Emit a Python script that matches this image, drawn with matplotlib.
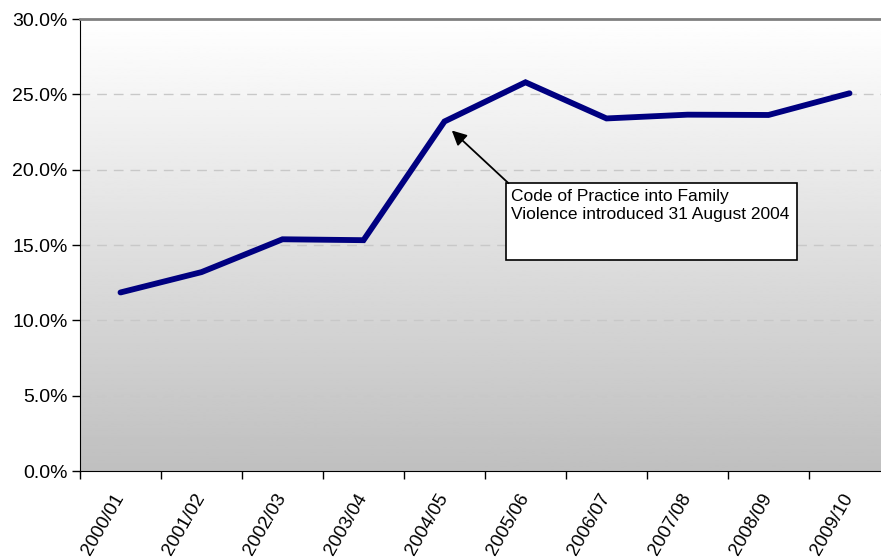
import numpy as np
import matplotlib
matplotlib.use('Agg')
import matplotlib.pyplot as plt
from matplotlib.patches import Rectangle
from matplotlib.ticker import FuncFormatter, FixedLocator

plt.rcParams['font.family'] = ['Liberation Sans', 'DejaVu Sans']

# dati
anni = ['2000/01', '2001/02', '2002/03', '2003/04', '2004/05',
        '2005/06', '2006/07', '2007/08', '2008/09', '2009/10']
percentuali = [11.85, 13.2, 15.38, 15.32, 23.2, 25.8, 23.4, 23.65, 23.63, 25.07]
nota = 'Code of Practice into Family\nViolence introduced 31 August 2004'

fig = plt.figure(figsize=(8.81, 5.6), dpi=100)
# l'area del grafico esce dal bordo destro come nell'originale
ax = fig.add_axes([80 / 881, 89 / 560, 810 / 881, 452 / 560])

xs = np.arange(len(anni))
ax.set_xlim(-0.5, len(anni) - 0.5)
ax.set_ylim(0, 30)

# sfondo sfumato bianco -> grigio
grad = np.linspace(1.0, 0.75, 256).reshape(-1, 1)
ax.imshow(grad, cmap='gray', vmin=0, vmax=1, aspect='auto',
          extent=(0, 1, 0, 1), transform=ax.transAxes, zorder=0)

for v in [5, 10, 15, 20, 25]:
    ax.axhline(v, color='#c8c8c8', lw=1, ls=(0, (7, 5)), zorder=1)

ax.plot(xs, percentuali, color='#000080', lw=4.2, solid_capstyle='round',
        solid_joinstyle='miter', zorder=3)

# riquadro della nota con freccia
ax.add_patch(Rectangle((4.76, 14.0), 3.59, 5.1, fc='white', ec='black',
                       lw=1.2, zorder=4))
ax.text(4.82, 18.72, nota, fontsize=12.5, va='top', ha='left',
        linespacing=1.25, zorder=5)
ax.annotate('', xy=(xs[4] + 0.09, percentuali[4] - 0.6), xytext=(4.79, 19.1),
            zorder=5,
            arrowprops=dict(arrowstyle='-|>', color='black', lw=1.3,
                            mutation_scale=22, shrinkA=0, shrinkB=0))

ax.set_yticks([0, 5, 10, 15, 20, 25, 30])
ax.yaxis.set_major_formatter(FuncFormatter(lambda v, p: '%.1f%%' % v))
ax.tick_params(axis='y', direction='out', length=6, width=1, labelsize=14, pad=3)

ax.set_xticks(xs)
ax.set_xticklabels(anni, rotation=60, ha='right', va='center',
                   rotation_mode='anchor', fontsize=13.5)
ax.tick_params(axis='x', which='major', length=0, pad=17)
ax.xaxis.set_minor_locator(FixedLocator(np.arange(-0.5, len(anni), 1.0)))
ax.tick_params(axis='x', which='minor', direction='out', length=6, width=1)

ax.spines['left'].set_color('black')
ax.spines['bottom'].set_color('black')
ax.spines['top'].set_color('#808080')
ax.spines['top'].set_linewidth(2)
ax.spines['right'].set_visible(False)

fig.savefig('out.png', dpi=100)
